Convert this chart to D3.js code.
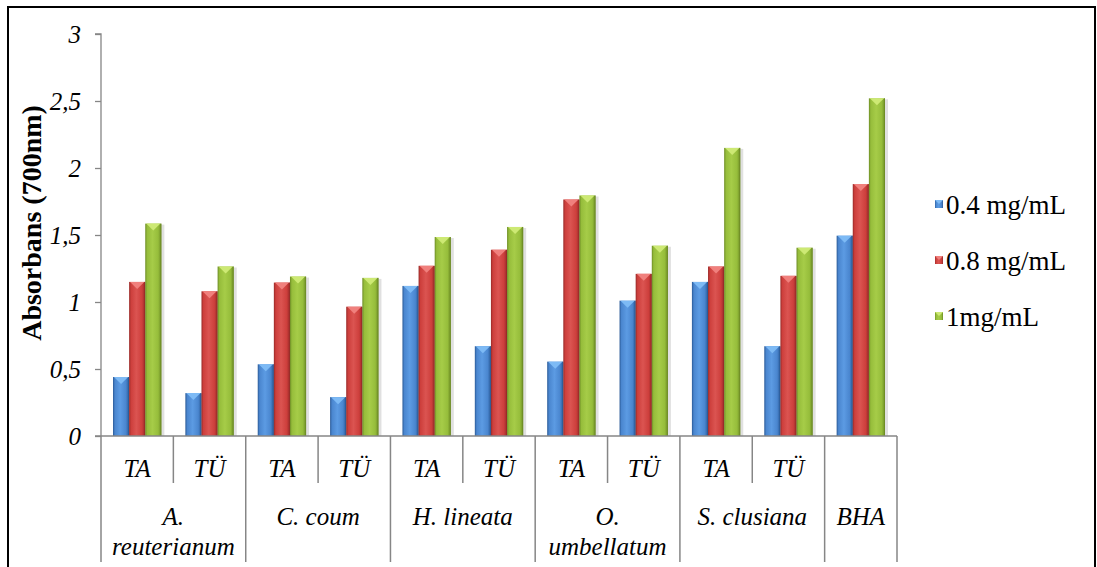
<!DOCTYPE html>
<html>
<head>
<meta charset="utf-8">
<script src="https://cdn.jsdelivr.net/npm/d3@7"></script>
</head>
<body style="margin:0">
<svg id="chart" width="1097" height="567"></svg>
<script>
// ---- data ----
const extracts = ["TA","TÜ","TA","TÜ","TA","TÜ","TA","TÜ","TA","TÜ",""];
const speciesNames = ["A. reuterianum","C. coum","H. lineata","O. umbellatum","S. clusiana","BHA"];
const speciesLines = [["A.","reuterianum"],["C. coum"],["H. lineata"],["O.","umbellatum"],["S. clusiana"],["BHA"]];
const speciesSpan = [2,2,2,2,2,1];
const seriesNames = ["0.4 mg/mL","0.8 mg/mL","1mg/mL"];
const conc04 = [0.44,0.32,0.535,0.29,1.12,0.67,0.555,1.01,1.15,0.67,1.495];
const conc08 = [1.15,1.08,1.145,0.965,1.27,1.39,1.765,1.21,1.265,1.195,1.88];
const conc1  = [1.585,1.265,1.19,1.18,1.485,1.56,1.795,1.42,2.15,1.405,2.52];
const yTicks = [0,0.5,1,1.5,2,2.5,3];
const yTitle = "Absorbans (700nm)";

// ---- layout ----
const FONT = "Liberation Serif";
const svg = d3.select("#chart");
const plotL = 101, plotR = 897, plotT = 34, plotB = 436;
const axisColor = "#868686";
const catIdx = d3.range(extracts.length);
const x0 = d3.scaleBand().domain(catIdx).range([plotL, plotR]).padding(0);
const x1 = d3.scaleBand().domain(seriesNames).range([12, x0.bandwidth() - 12]).padding(0);
const y = d3.scaleLinear().domain([0,3]).range([plotB, plotT]);

const palettes = [
  {edge:"#2a5a97", mid:"#4a86cf", light:"#5c9be3", top:"#7dbaf5"},
  {edge:"#982a28", mid:"#cd3f3c", light:"#db5451", top:"#f0807d"},
  {edge:"#6d8c25", mid:"#96bd3b", light:"#a6cc48", top:"#cde974"}
];

const defs = svg.append("defs");
palettes.forEach((p,i) => {
  const g = defs.append("linearGradient").attr("id","g"+i).attr("x1","0").attr("x2","1").attr("y1","0").attr("y2","0");
  g.append("stop").attr("offset","0").attr("stop-color",p.edge);
  g.append("stop").attr("offset","0.12").attr("stop-color",p.mid);
  g.append("stop").attr("offset","0.45").attr("stop-color",p.light);
  g.append("stop").attr("offset","0.8").attr("stop-color",p.mid);
  g.append("stop").attr("offset","1").attr("stop-color",p.edge);
});

// outer frame
svg.append("rect").attr("x",8).attr("y",7).attr("width",1087).attr("height",575)
  .attr("fill","none").attr("stroke","#000").attr("stroke-width",2);

// y axis
const yAxis = d3.axisLeft(y).tickValues(yTicks).tickSize(6).tickPadding(14)
  .tickFormat(d => String(d).replace(".", ","));
const yg = svg.append("g").attr("transform",`translate(${plotL},0)`).call(yAxis).attr("font-family", FONT);
yg.select(".domain").attr("stroke",axisColor).attr("stroke-width",1.3).attr("d",`M-6,${plotT}H0V${plotB}`);
yg.selectAll(".tick line").attr("stroke",axisColor).attr("stroke-width",1.3);
yg.selectAll(".tick text").attr("font-family",FONT).attr("font-size",25).attr("font-style","italic").attr("fill","#000");

// y title
svg.append("text").attr("transform","translate(41,223) rotate(-90)").attr("font-family",FONT)
  .attr("text-anchor","middle").attr("font-size",28).attr("font-weight","bold").text(yTitle);

// bars
const seriesVals = [conc04, conc08, conc1];
const bw = x1.bandwidth();
seriesNames.forEach((s, si) => {
  const vals = seriesVals[si];
  const g = svg.append("g");
  g.selectAll("rect.sh").data(catIdx).join("rect").attr("class","sh")
    .attr("x", i => x0(i) + x1(s) + 1.5)
    .attr("y", i => y(vals[i]) + 1)
    .attr("width", bw + 1.5)
    .attr("height", i => y(0) - y(vals[i]) - 1)
    .attr("fill", "#000").attr("opacity", 0.12);
});
seriesNames.forEach((s, si) => {
  const vals = seriesVals[si];
  const g = svg.append("g");
  const sel = g.selectAll("g.bar").data(catIdx).join("g").attr("class","bar");
  sel.append("rect")
    .attr("x", i => x0(i) + x1(s))
    .attr("y", i => y(vals[i]))
    .attr("width", bw)
    .attr("height", i => y(0) - y(vals[i]))
    .attr("fill", `url(#g${si})`);
  sel.append("path")
    .attr("d", i => {
      const xa = x0(i) + x1(s), yt = y(vals[i]);
      return `M${xa+1},${yt}L${xa+bw-1},${yt}L${xa+bw/2},${yt+7}Z`;
    })
    .attr("fill", palettes[si].top);
  sel.append("line")
    .attr("x1", i => x0(i) + x1(s) + bw - 0.5).attr("x2", i => x0(i) + x1(s) + bw - 0.5)
    .attr("y1", i => y(vals[i])).attr("y2", y(0))
    .attr("stroke", palettes[si].edge).attr("stroke-width",1).attr("opacity",0.7);
});

// x axis line
svg.append("line").attr("x1",plotL-6).attr("x2",plotR).attr("y1",plotB).attr("y2",plotB)
  .attr("stroke",axisColor).attr("stroke-width",1.5);

// category separators
const shortBottom = 483, longBottom = 562;
const speciesBoundaries = [0];
speciesSpan.forEach(n => speciesBoundaries.push(speciesBoundaries[speciesBoundaries.length-1] + n));
d3.range(extracts.length + 1).forEach(k => {
  const xx = k < extracts.length ? x0(k) : plotR;
  const isLong = speciesBoundaries.includes(k);
  svg.append("line").attr("x1",xx).attr("x2",xx).attr("y1",plotB).attr("y2",isLong ? longBottom : shortBottom)
    .attr("stroke",axisColor).attr("stroke-width",1.5);
});

// level-1 labels
svg.selectAll("text.l1").data(catIdx).join("text").attr("class","l1")
  .attr("x", i => x0(i) + x0.bandwidth()/2).attr("y",477).attr("font-family",FONT)
  .attr("text-anchor","middle").attr("font-size",25).attr("font-style","italic")
  .text(i => extracts[i]);

// level-2 labels
speciesLines.forEach((lines, si) => {
  const a = x0(speciesBoundaries[si]);
  const b = speciesBoundaries[si+1] < extracts.length ? x0(speciesBoundaries[si+1]) : plotR;
  const t = svg.append("text").attr("x",(a+b)/2).attr("y",525).attr("font-family",FONT)
    .attr("text-anchor","middle").attr("font-size",25).attr("font-style","italic");
  lines.forEach((ln, li) => {
    t.append("tspan").attr("x",(a+b)/2).attr("dy", li === 0 ? 0 : 30).text(ln);
  });
});

// legend
const legendY = [214, 270, 326];
seriesNames.forEach((s, si) => {
  svg.append("rect").attr("x",935).attr("y",legendY[si]-14).attr("width",8).attr("height",8)
    .attr("fill",`url(#g${si})`);
  svg.append("path").attr("d",`M935,${legendY[si]-14}h8l-4,4z`).attr("fill",palettes[si].top);
  svg.append("text").attr("x",946).attr("y",legendY[si]).attr("font-family",FONT).attr("font-size",27).text(s);
});
</script>
</body>
</html>
